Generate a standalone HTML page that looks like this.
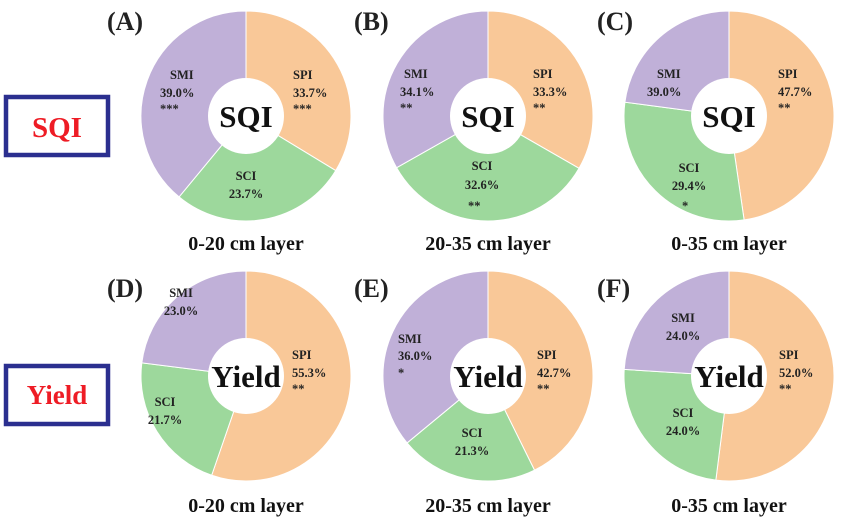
<!DOCTYPE html>
<html><head><meta charset="utf-8"><style>
html,body{margin:0;padding:0;background:#fff;}
svg{display:block;font-family:"Liberation Serif",serif;font-weight:bold;}
</style></head><body>
<svg id="s" width="843" height="520" viewBox="0 0 843 520" xmlns="http://www.w3.org/2000/svg">
<rect x="6" y="97" width="102" height="58" fill="none" stroke="#2b2f8f" stroke-width="4.5"/>
<text x="57" y="137" font-size="29" fill="#ee1c25" text-anchor="middle">SQI</text>
<rect x="6" y="366" width="102" height="58" fill="none" stroke="#2b2f8f" stroke-width="4.5"/>
<text x="57" y="404" font-size="27" fill="#ee1c25" text-anchor="middle">Yield</text>
<g font-size="26" fill="#222">
<text x="107" y="30">(A)</text><text x="354" y="30">(B)</text><text x="597" y="30">(C)</text>
<text x="107" y="297">(D)</text><text x="354" y="297">(E)</text><text x="597" y="297">(F)</text>
</g>
<g font-size="20" fill="#111" text-anchor="middle">
<text x="246" y="250">0-20 cm layer</text><text x="488" y="250">20-35 cm layer</text><text x="729" y="250">0-35 cm layer</text>
<text x="246" y="512">0-20 cm layer</text><text x="488" y="512">20-35 cm layer</text><text x="729" y="512">0-35 cm layer</text>
</g>
<g id="pies"></g>
<g font-size="12.5" fill="#222">
<text x="170" y="79">SMI</text><text x="160" y="97">39.0%</text><text x="160" y="113">***</text>
<text x="293" y="79">SPI</text><text x="293" y="97">33.7%</text><text x="293" y="113">***</text>
<text x="246" y="180" text-anchor="middle">SCI</text><text x="246" y="198" text-anchor="middle">23.7%</text>
<text x="404" y="78">SMI</text><text x="400" y="96">34.1%</text><text x="400" y="112">**</text>
<text x="533" y="78">SPI</text><text x="533" y="96">33.3%</text><text x="533" y="112">**</text>
<text x="482" y="170" text-anchor="middle">SCI</text><text x="482" y="189" text-anchor="middle">32.6%</text><text x="468" y="210">**</text>
<text x="657" y="78">SMI</text><text x="647" y="96">39.0%</text>
<text x="778" y="78">SPI</text><text x="778" y="96">47.7%</text><text x="778" y="112">**</text>
<text x="689" y="172" text-anchor="middle">SCI</text><text x="689" y="190" text-anchor="middle">29.4%</text><text x="682" y="210">*</text>
<text x="181" y="297" text-anchor="middle">SMI</text><text x="181" y="315" text-anchor="middle">23.0%</text>
<text x="292" y="359">SPI</text><text x="292" y="377">55.3%</text><text x="292" y="393">**</text>
<text x="165" y="406" text-anchor="middle">SCI</text><text x="165" y="424" text-anchor="middle">21.7%</text>
<text x="398" y="343">SMI</text><text x="398" y="360">36.0%</text><text x="398" y="377">*</text>
<text x="537" y="359">SPI</text><text x="537" y="377">42.7%</text><text x="537" y="393">**</text>
<text x="472" y="437" text-anchor="middle">SCI</text><text x="472" y="455" text-anchor="middle">21.3%</text>
<text x="683" y="322" text-anchor="middle">SMI</text><text x="683" y="340" text-anchor="middle">24.0%</text>
<text x="779" y="359">SPI</text><text x="779" y="377">52.0%</text><text x="779" y="393">**</text>
<text x="683" y="417" text-anchor="middle">SCI</text><text x="683" y="435" text-anchor="middle">24.0%</text>
</g>
</svg>
<script>
var P=[[246,116,[33.7,27.3],"SQI"],[488,116,[33.3,33.5],"SQI"],[729,116,[47.7,29.4],"SQI"],
[246,376,[55.3,21.7],"Yield"],[488,376,[42.7,21.3],"Yield"],[729,376,[52.0,24.0],"Yield"]];
var C=["#f9c898","#9dd89c","#c0b0d8"],R=105,r=38,g=document.getElementById("pies"),h="";
P.forEach(function(p){var cx=p[0],cy=p[1],v=p[2].slice();v.push(100-v[0]-v[1]);var a=0;
for(var i=0;i<3;i++){var b=a+v[i]/100*2*Math.PI;
var x1=cx+R*Math.sin(a),y1=cy-R*Math.cos(a),x2=cx+R*Math.sin(b),y2=cy-R*Math.cos(b);
var l=(b-a)>Math.PI?1:0;
h+='<path d="M'+cx+','+cy+' L'+x1+','+y1+' A'+R+','+R+' 0 '+l+' 1 '+x2+','+y2+' Z" fill="'+C[i]+'" stroke="#fff" stroke-width="1"/>';a=b;}
h+='<circle cx="'+cx+'" cy="'+cy+'" r="'+r+'" fill="#fff"/>';
h+='<text x="'+cx+'" y="'+(cy+11)+'" font-size="31" fill="#111" text-anchor="middle">'+p[3]+'</text>';});
g.innerHTML=h;
</script>
</body></html>
